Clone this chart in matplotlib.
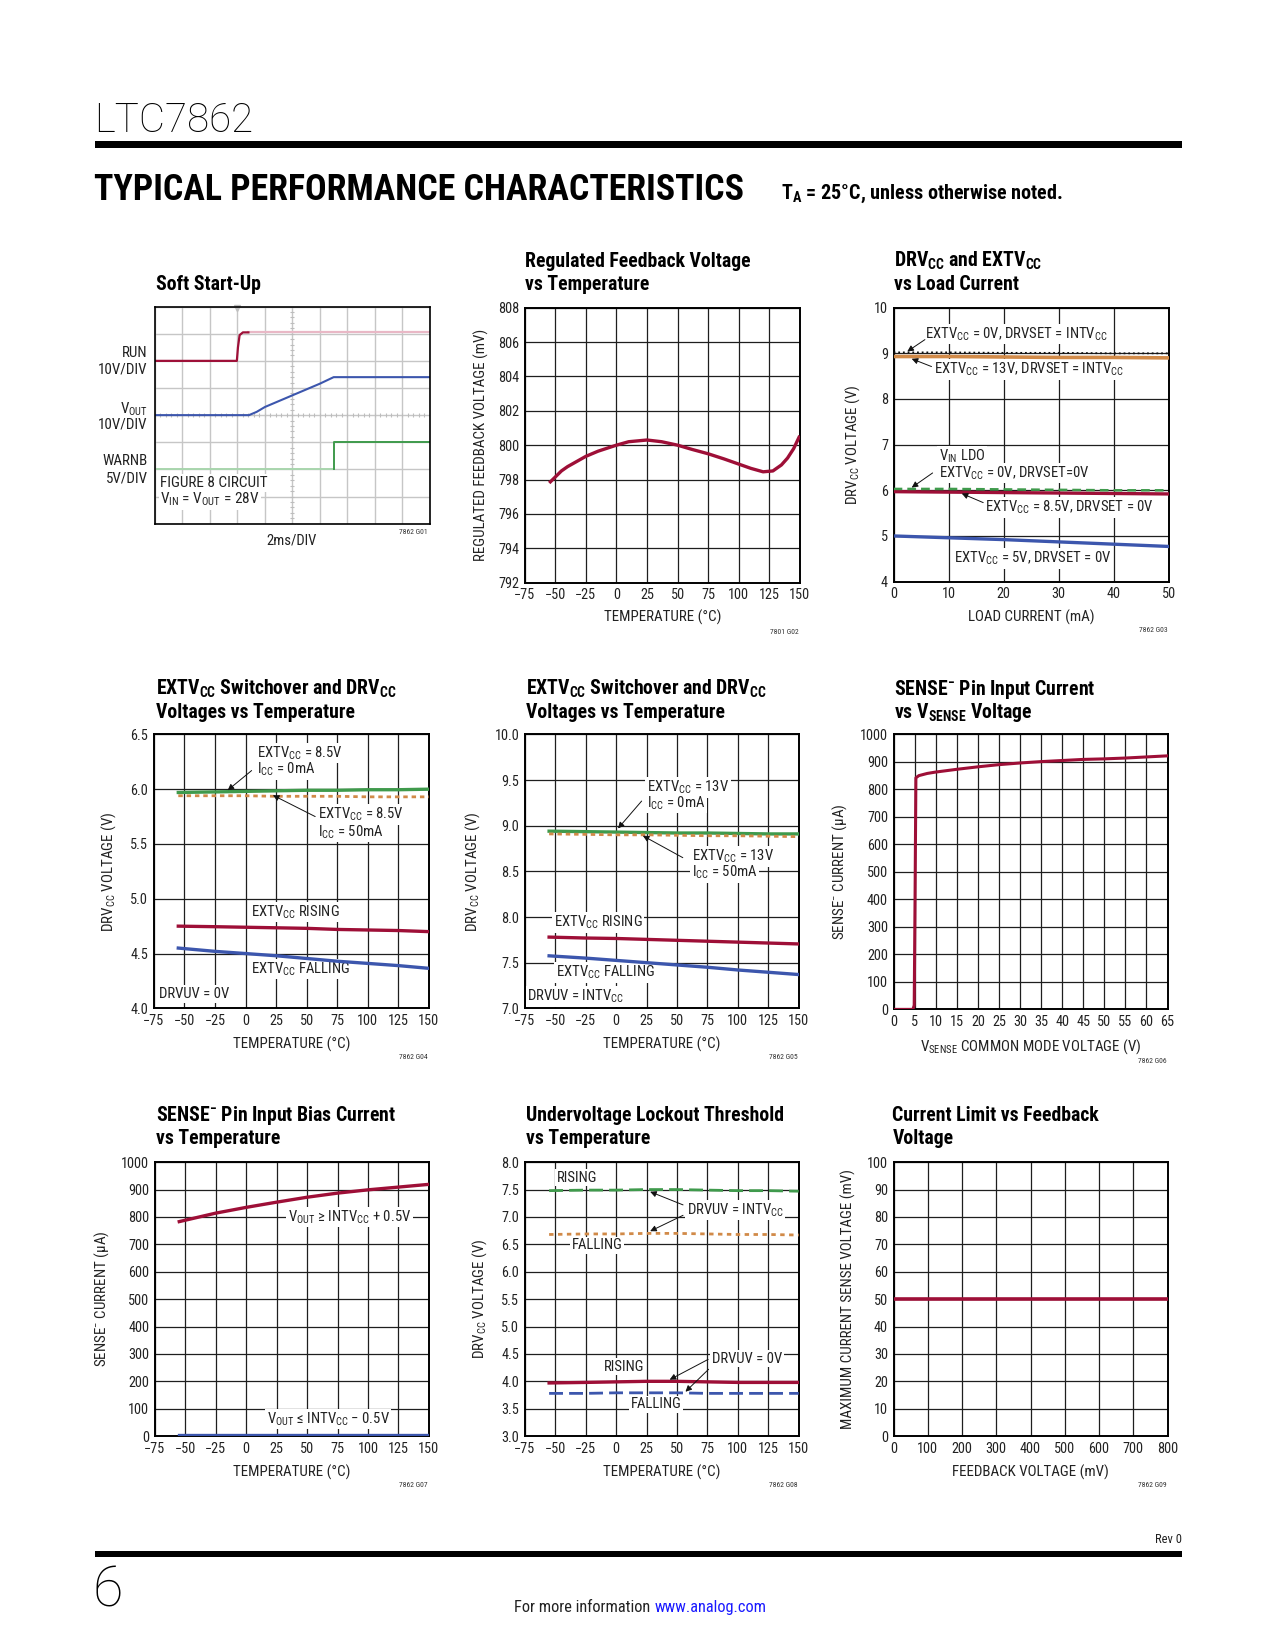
import matplotlib
matplotlib.use('Agg')
import matplotlib.pyplot as plt
import matplotlib.font_manager as fm
from matplotlib.patches import Rectangle
import numpy as np

# ---------------- font choice ----------------
_names = sorted({e.name for e in fm.fontManager.ttflist})
NARROW = None
for cand in ['Liberation Sans Narrow', 'Roboto Condensed', 'Arial Narrow', 'Nimbus Sans Narrow',
             'Noto Sans Condensed', 'Open Sans Condensed', 'DejaVu Sans Condensed']:
    if cand in _names:
        NARROW = cand
        break
if NARROW is None:
    for n in _names:
        if ('Narrow' in n or 'Condensed' in n) and 'Sans' in n and 'Mono' not in n:
            NARROW = n
            break
if NARROW is not None:
    BASE = NARROW
    SC = 1.0
else:
    BASE = 'Liberation Sans'
    SC = 0.86


def FS(v):
    return v * SC


plt.rcParams['font.family'] = [BASE, 'Liberation Sans', 'DejaVu Sans']
plt.rcParams['mathtext.default'] = 'regular'
plt.rcParams['axes.unicode_minus'] = True

# ---------------- data ----------------
# Soft start-up scope traces (time in divisions, level in divisions)
run_t = [0.0, 2.98, 3.02, 3.08, 3.2, 3.4]
run_v = [6.0, 6.0, 6.5, 6.95, 7.05, 7.05]
run_hi_t = [3.4, 10.0]
run_hi_v = [7.05, 7.05]
vout_t = [0.0, 3.42, 3.7, 4.0, 5.0, 6.0, 6.5, 10.0]
vout_v = [4.0, 4.0, 4.12, 4.3, 4.73, 5.16, 5.4, 5.4]
warnb_lo_t = [0.0, 6.5]
warnb_lo_v = [2.0, 2.0]
warnb_hi_t = [6.5, 6.5, 10.0]
warnb_hi_v = [2.0, 3.0, 3.0]

# Regulated feedback voltage vs temperature
fb_temp = [-55, -50, -45, -40, -35, -25, -15, 0, 10, 25, 37, 50, 62, 75, 88, 100, 110, 120, 128, 135, 140, 145, 150]
fb_mv = [797.8, 798.15, 798.5, 798.75, 798.95, 799.35, 799.65, 800.0, 800.2, 800.3, 800.2, 800.0, 799.75,
         799.5, 799.2, 798.9, 798.65, 798.45, 798.5, 798.85, 799.25, 799.8, 800.55]

# DRVcc vs load current
load_ma = [0, 10, 20, 30, 40, 50]
drv_ext0_intv = [9.02, 9.02, 9.01, 9.01, 9.0, 9.0]
drv_ext13_intv = [8.93, 8.93, 8.92, 8.91, 8.91, 8.9]
drv_ldo = [6.03, 6.03, 6.02, 6.01, 6.0, 6.0]
drv_ext85 = [5.97, 5.96, 5.95, 5.94, 5.93, 5.92]
drv_ext5 = [5.0, 4.96, 4.92, 4.87, 4.82, 4.77]

# Switchover vs temperature
sw_temp = [-55, -25, 0, 25, 50, 75, 100, 125, 150]
sw85_icc0 = [5.97, 5.975, 5.98, 5.985, 5.99, 5.99, 5.995, 5.995, 6.0]
sw85_icc50 = [5.94, 5.94, 5.94, 5.935, 5.935, 5.935, 5.93, 5.93, 5.93]
sw85_rise = [4.75, 4.745, 4.74, 4.735, 4.73, 4.72, 4.715, 4.71, 4.70]
sw85_fall = [4.55, 4.52, 4.50, 4.48, 4.455, 4.43, 4.41, 4.39, 4.365]
sw13_icc0 = [8.94, 8.935, 8.93, 8.925, 8.92, 8.92, 8.915, 8.91, 8.91]
sw13_icc50 = [8.91, 8.905, 8.90, 8.90, 8.895, 8.89, 8.89, 8.885, 8.88]
sw13_rise = [7.78, 7.77, 7.765, 7.755, 7.745, 7.735, 7.725, 7.715, 7.705]
sw13_fall = [7.575, 7.55, 7.525, 7.5, 7.475, 7.45, 7.42, 7.395, 7.37]

# SENSE- current vs common mode voltage
vsense_v = [0, 4.6, 4.9, 5.1, 5.3, 6, 8, 10, 15, 20, 25, 30, 35, 40, 45, 50, 55, 60, 65]
vsense_i = [0, 0, 15, 400, 842, 850, 858, 863, 873, 882, 890, 896, 901, 905, 909, 911, 914, 918, 922]

# SENSE- bias current vs temperature
bias_temp = [-55, -25, 0, 25, 50, 75, 100, 125, 150]
bias_hi = [783, 814, 835, 854, 872, 887, 899, 909, 919]
bias_lo = [5, 5, 5, 5, 5, 5, 5, 5, 5]

# UVLO vs temperature
uv_temp = [-55, -25, 0, 25, 50, 75, 100, 125, 150]
uv_rise_intv = [7.48, 7.49, 7.49, 7.5, 7.5, 7.49, 7.48, 7.48, 7.47]
uv_fall_intv = [6.68, 6.69, 6.69, 6.70, 6.70, 6.69, 6.68, 6.68, 6.67]
uv_rise_0v = [3.97, 3.98, 3.99, 4.0, 4.0, 3.99, 3.98, 3.98, 3.98]
uv_fall_0v = [3.78, 3.78, 3.79, 3.79, 3.79, 3.78, 3.78, 3.78, 3.78]

# Current limit vs feedback
fbv_mv = [0, 800]
ilim_mv = [50, 50]

temp_ticks = [-75, -50, -25, 0, 25, 50, 75, 100, 125, 150]

RED = '#9e0f37'
BLUE = '#3c56ad'
GREEN = '#3f9a4c'
ORANGE = '#d18a48'
GRID = '#1e1e1e'
TXT = '#222222'

# ---------------- layout helpers ----------------
W, H = 1210.0, 1566.0
fig = plt.figure(figsize=(12.75, 16.5), dpi=100)


def fx(x):
    return x / W


def fy(y):
    return 1 - y / H


def add_ax(x0, y0, x1, y1):
    return fig.add_axes([fx(x0), fy(y1), (x1 - x0) / W, (y1 - y0) / H])


def ftext(x, y, s, **kw):
    return fig.text(fx(x), fy(y), s, **kw)


def style(ax, box, xlim, xticks, ylim, yticks, xlabel, ylabel, ylab_x, xlab_y, code, code_xy, yfmt=None):
    x0, y0, x1, y1 = box
    ax.set_xlim(*xlim)
    ax.set_ylim(*ylim)
    ax.set_xticks(xticks)
    ax.set_yticks(yticks)
    if yfmt:
        ax.set_yticklabels([yfmt.format(v) for v in yticks])
    ax.tick_params(length=0, labelsize=FS(10.3), pad=4, colors=TXT)
    ax.grid(True, color=GRID, lw=0.9)
    ax.set_axisbelow(True)
    for s in ax.spines.values():
        s.set_linewidth(1.4)
        s.set_color('black')
    ax.set_xlabel(xlabel, fontsize=FS(10.8), color=TXT)
    ax.set_ylabel(ylabel, fontsize=FS(10.8), color=TXT)
    # label positions given as the label's centre in page pixels
    ax.yaxis.set_label_coords((ylab_x + 6 - x0) / (x1 - x0), 0.5)
    ax.xaxis.set_label_coords(0.5, (y1 - (xlab_y - 6)) / (y1 - y0))
    ftext(code_xy[0], code_xy[1], code, fontsize=FS(5.5), ha='right', va='center', color='#333333')


BB = dict(facecolor='white', edgecolor='none', pad=1.2)


def lab(ax, x, y, s, **kw):
    ax.text(x, y, s, fontsize=FS(10.6), ha='left', va='center', bbox=BB, zorder=3, color=TXT, **kw)


def arrow(ax, tail, tip):
    ax.annotate('', xy=tip, xytext=tail, zorder=6,
                arrowprops=dict(arrowstyle='-|>', color='#111111', lw=0.7, mutation_scale=9,
                                shrinkA=0, shrinkB=0))


def title(x, y, s):
    ftext(x, y, s, fontsize=FS(14.2), fontweight='bold', va='center', ha='left')


# ---------------- header / footer ----------------
ftext(89, 115, 'LTC7862', fontsize=29, family=['Roboto', 'DejaVu Sans'], fontweight='light', va='center', ha='left')
fig.add_artist(Rectangle((fx(90), fy(140)), fx(1122) - fx(90), 6 / H, transform=fig.transFigure,
                         facecolor='black', edgecolor='none'))
ftext(89, 180, 'TYPICAL PERFORMANCE CHARACTERISTICS', fontsize=(25.8 if SC == 1.0 else 21),
      fontweight='bold', va='center', ha='left')
ftext(741, 184, r'T$_A$ = 25°C, unless otherwise noted.', fontsize=FS(14.5), fontweight='bold', va='center', ha='left')

ftext(1122, 1461, 'Rev 0', fontsize=FS(9), ha='right', va='center', color=TXT)
fig.add_artist(Rectangle((fx(90), fy(1478)), fx(1122) - fx(90), 6 / H, transform=fig.transFigure,
                         facecolor='black', edgecolor='none'))
ftext(88, 1510, '6', fontsize=40, family=['Roboto', 'DejaVu Sans'], fontweight='light', va='center', ha='left')
ftext(617, 1526, 'For more information', fontsize=FS(11.8), ha='right', va='center', color=TXT)
ftext(621, 1526, 'www.analog.com', fontsize=FS(11.8), ha='left', va='center', color='#1a1aff')

# ---------------- panel 1: soft start ----------------
box1 = (147, 291, 408, 497)
ax1 = add_ax(*box1)
ax1.set_xlim(0, 10)
ax1.set_ylim(0, 8)
ax1.set_xticks(range(11))
ax1.set_yticks(range(9))
ax1.set_xticklabels([])
ax1.set_yticklabels([])
ax1.tick_params(length=0)
ax1.grid(True, color='#c6c6c6', lw=1.0)
ax1.set_axisbelow(True)
for s in ax1.spines.values():
    s.set_linewidth(1.2)
ax1.vlines(np.arange(0, 10.01, 0.2), 4 - 0.07, 4 + 0.07, color='#bdbdbd', lw=0.8)
ax1.hlines(np.arange(0, 8.01, 0.2), 5 - 0.07, 5 + 0.07, color='#bdbdbd', lw=0.8)
ax1.plot([3], [7.95], marker='v', color='#c0c0c0', ms=4, clip_on=False)
ax1.plot(run_hi_t, run_hi_v, color='#e9b8c6', lw=1.6)
ax1.plot(run_t, run_v, color=RED, lw=1.6)
ax1.plot(vout_t, vout_v, color=BLUE, lw=1.5)
ax1.plot(warnb_lo_t, warnb_lo_v, color='#a9d6ae', lw=1.4)
ax1.plot(warnb_hi_t, warnb_hi_v, color=GREEN, lw=1.4)
ax1.text(0.2, 1.5, 'FIGURE 8 CIRCUIT', fontsize=FS(11), va='center', ha='left', bbox=BB, color=TXT)
ax1.text(0.2, 0.9, r'V$_{IN}$ = V$_{OUT}$ = 28V', fontsize=FS(11), va='center', ha='left', bbox=BB, color=TXT)
title(148, 270, 'Soft Start-Up')
for yy, s in [(335, 'RUN'), (351, '10V/DIV'), (388, r'V$_{OUT}$'), (403, '10V/DIV'), (438, 'WARNB'), (454, '5V/DIV')]:
    ftext(140, yy, s, fontsize=FS(10.8), ha='right', va='center', color=TXT)
ftext(277, 513, '2ms/DIV', fontsize=FS(10.5), ha='center', va='center', color=TXT)
ftext(406, 505, '7862 G01', fontsize=FS(5.5), ha='right', va='center', color='#333333')

# ---------------- panel 2: feedback voltage ----------------
box2 = (498, 292, 759, 553)
ax2 = add_ax(*box2)
style(ax2, box2, (-75, 150), temp_ticks, (792, 808), list(range(792, 809, 2)),
      'TEMPERATURE (°C)', 'REGULATED FEEDBACK VOLTAGE (mV)', 458, 585, '7801 G02', (758, 600))
ax2.plot(fb_temp, fb_mv, color=RED, lw=2.4, zorder=4, solid_capstyle='butt')
title(498, 248, 'Regulated Feedback Voltage')
title(498, 270, 'vs Temperature')

# ---------------- panel 3: DRVcc vs load ----------------
box3 = (848, 292, 1109, 552)
ax3 = add_ax(*box3)
style(ax3, box3, (0, 50), [0, 10, 20, 30, 40, 50], (4, 10), list(range(4, 11)),
      'LOAD CURRENT (mA)', r'DRV$_{CC}$ VOLTAGE (V)', 812, 585, '7862 G03', (1108, 598))
lab(ax3, 5.7, 9.42, r'EXTV$_{CC}$ = 0V, DRVSET = INTV$_{CC}$')
lab(ax3, 7.3, 8.64, r'EXTV$_{CC}$ = 13V, DRVSET = INTV$_{CC}$')
lab(ax3, 8.2, 6.74, r'V$_{IN}$ LDO')
lab(ax3, 8.2, 6.38, r'EXTV$_{CC}$ = 0V, DRVSET=0V')
lab(ax3, 16.6, 5.63, r'EXTV$_{CC}$ = 8.5V, DRVSET = 0V')
lab(ax3, 10.9, 4.51, r'EXTV$_{CC}$ = 5V, DRVSET = 0V')
ax3.plot(load_ma, drv_ext13_intv, color=ORANGE, lw=2.6, zorder=4)
ax3.plot(load_ma, drv_ext0_intv, color='#111111', lw=1.3, ls=(0, (1, 1.6)), zorder=5)
ax3.plot(load_ma, drv_ext85, color=RED, lw=2.4, zorder=4)
ax3.plot(load_ma, drv_ldo, color=GREEN, lw=1.8, ls=(0, (3.5, 2)), zorder=5)
ax3.plot(load_ma, drv_ext5, color=BLUE, lw=2.4, zorder=4)
arrow(ax3, (5.7, 9.3), (2.5, 9.04))
arrow(ax3, (6.9, 8.71), (3.3, 8.88))
arrow(ax3, (7.1, 6.38), (3.3, 6.06))
arrow(ax3, (16.3, 5.73), (12.4, 5.93))
title(848, 248, r'DRV$_{CC}$ and EXTV$_{CC}$')
title(848, 270, 'vs Load Current')

# ---------------- panel 4: switchover 8.5V ----------------
box4 = (146, 697, 407, 957)
ax4 = add_ax(*box4)
style(ax4, box4, (-75, 150), temp_ticks, (4.0, 6.5), [4.0, 4.5, 5.0, 5.5, 6.0, 6.5],
      'TEMPERATURE (°C)', r'DRV$_{CC}$ VOLTAGE (V)', 106, 990, '7862 G04', (406, 1003), yfmt='{:.1f}')
lab(ax4, 9.5, 6.33, r'EXTV$_{CC}$ = 8.5V')
lab(ax4, 9.5, 6.18, r'I$_{CC}$ = 0mA')
lab(ax4, 59.5, 5.77, r'EXTV$_{CC}$ = 8.5V')
lab(ax4, 59.5, 5.61, r'I$_{CC}$ = 50mA')
lab(ax4, 4.3, 4.88, r'EXTV$_{CC}$ RISING')
lab(ax4, 4.3, 4.36, r'EXTV$_{CC}$ FALLING')
lab(ax4, -70.7, 4.13, 'DRVUV = 0V')
ax4.plot(sw_temp, sw85_icc0, color=GREEN, lw=2.4, zorder=4)
ax4.plot(sw_temp, sw85_icc50, color=ORANGE, lw=2.0, ls=(0, (1.6, 1.4)), zorder=5)
ax4.plot(sw_temp, sw85_rise, color=RED, lw=2.4, zorder=4)
ax4.plot(sw_temp, sw85_fall, color=BLUE, lw=2.4, zorder=4)
arrow(ax4, (5, 6.17), (-14.6, 5.99))
arrow(ax4, (57, 5.75), (22.4, 5.945))
title(148, 654, r'EXTV$_{CC}$ Switchover and DRV$_{CC}$')
title(148, 676, 'Voltages vs Temperature')

# ---------------- panel 5: switchover 13V ----------------
box5 = (498, 697, 758, 957)
ax5 = add_ax(*box5)
style(ax5, box5, (-75, 150), temp_ticks, (7.0, 10.0), [7.0, 7.5, 8.0, 8.5, 9.0, 9.5, 10.0],
      'TEMPERATURE (°C)', r'DRV$_{CC}$ VOLTAGE (V)', 451, 990, '7862 G05', (757, 1003), yfmt='{:.1f}')
lab(ax5, 25.4, 9.42, r'EXTV$_{CC}$ = 13V')
lab(ax5, 25.4, 9.25, r'I$_{CC}$ = 0mA')
lab(ax5, 62, 8.66, r'EXTV$_{CC}$ = 13V')
lab(ax5, 62, 8.49, r'I$_{CC}$ = 50mA')
lab(ax5, -51, 7.94, r'EXTV$_{CC}$ RISING')
lab(ax5, -49.5, 7.39, r'EXTV$_{CC}$ FALLING')
lab(ax5, -73, 7.13, r'DRVUV = INTV$_{CC}$')
ax5.plot(sw_temp, sw13_icc0, color=GREEN, lw=2.4, zorder=4)
ax5.plot(sw_temp, sw13_icc50, color=ORANGE, lw=2.0, ls=(0, (1.6, 1.4)), zorder=5)
ax5.plot(sw_temp, sw13_rise, color=RED, lw=2.4, zorder=4)
ax5.plot(sw_temp, sw13_fall, color=BLUE, lw=2.4, zorder=4)
arrow(ax5, (21, 9.27), (1.6, 8.97))
arrow(ax5, (54.8, 8.65), (22, 8.89))
title(499, 654, r'EXTV$_{CC}$ Switchover and DRV$_{CC}$')
title(499, 676, 'Voltages vs Temperature')

# ---------------- panel 6: SENSE- vs VSENSE ----------------
box6 = (848, 697, 1108, 958)
ax6 = add_ax(*box6)
style(ax6, box6, (0, 65), list(range(0, 66, 5)), (0, 1000), list(range(0, 1001, 100)),
      r'V$_{SENSE}$ COMMON MODE VOLTAGE (V)', r'SENSE$^{-}$ CURRENT (μA)', 800, 990, '7862 G06', (1107, 1007))
ax6.plot(vsense_v, vsense_i, color=RED, lw=2.2, zorder=4)
title(848, 654, r'SENSE$^{-}$ Pin Input Current')
title(848, 676, r'vs V$_{SENSE}$ Voltage')

# ---------------- panel 7: bias current ----------------
box7 = (147, 1103, 407, 1363)
ax7 = add_ax(*box7)
style(ax7, box7, (-75, 150), temp_ticks, (0, 1000), list(range(0, 1001, 100)),
      'TEMPERATURE (°C)', r'SENSE$^{-}$ CURRENT (μA)', 99, 1396, '7862 G07', (406, 1409))
lab(ax7, 34, 800, r'V$_{OUT}$ ≥ INTV$_{CC}$ + 0.5V')
lab(ax7, 16.7, 62, r'V$_{OUT}$ ≤ INTV$_{CC}$ − 0.5V')
ax7.plot(bias_temp, bias_hi, color=RED, lw=2.4, zorder=4)
ax7.plot(bias_temp, bias_lo, color=BLUE, lw=2.4, zorder=4)
title(148, 1059, r'SENSE$^{-}$ Pin Input Bias Current')
title(148, 1081, 'vs Temperature')

# ---------------- panel 8: UVLO ----------------
box8 = (498, 1103, 758, 1363)
ax8 = add_ax(*box8)
style(ax8, box8, (-75, 150), temp_ticks, (3.0, 8.0), list(np.arange(3.0, 8.01, 0.5)),
      'TEMPERATURE (°C)', r'DRV$_{CC}$ VOLTAGE (V)', 458, 1396, '7862 G08', (757, 1409), yfmt='{:.1f}')
lab(ax8, -48.6, 7.72, 'RISING')
lab(ax8, 58, 7.13, r'DRVUV = INTV$_{CC}$')
lab(ax8, -36.4, 6.48, 'FALLING')
lab(ax8, -10, 4.27, 'RISING')
lab(ax8, 78.6, 4.41, 'DRVUV = 0V')
lab(ax8, 12, 3.58, 'FALLING')
ax8.plot(uv_temp, uv_rise_intv, color=GREEN, lw=2.0, ls=(0, (5, 2.2)), zorder=4)
ax8.plot(uv_temp, uv_fall_intv, color=ORANGE, lw=2.0, ls=(0, (1.6, 1.6)), zorder=4)
ax8.plot(uv_temp, uv_rise_0v, color=RED, lw=2.4, zorder=4)
ax8.plot(uv_temp, uv_fall_0v, color=BLUE, lw=2.0, ls=(0, (5, 2.2)), zorder=4)
arrow(ax8, (55, 7.22), (28, 7.46))
arrow(ax8, (55, 7.03), (28, 6.74))
arrow(ax8, (75.6, 4.4), (44, 4.03))
arrow(ax8, (76, 4.22), (57, 3.81))
title(499, 1059, 'Undervoltage Lockout Threshold')
title(499, 1081, 'vs Temperature')

# ---------------- panel 9: current limit ----------------
box9 = (848, 1103, 1108, 1363)
ax9 = add_ax(*box9)
style(ax9, box9, (0, 800), list(range(0, 801, 100)), (0, 100), list(range(0, 101, 10)),
      'FEEDBACK VOLTAGE (mV)', 'MAXIMUM CURRENT SENSE VOLTAGE (mV)', 806, 1396, '7862 G09', (1107, 1409))
ax9.plot(fbv_mv, ilim_mv, color=RED, lw=2.6, zorder=4)
title(847, 1059, 'Current Limit vs Feedback')
title(847, 1081, 'Voltage')

fig.savefig('out.png', dpi=100)
